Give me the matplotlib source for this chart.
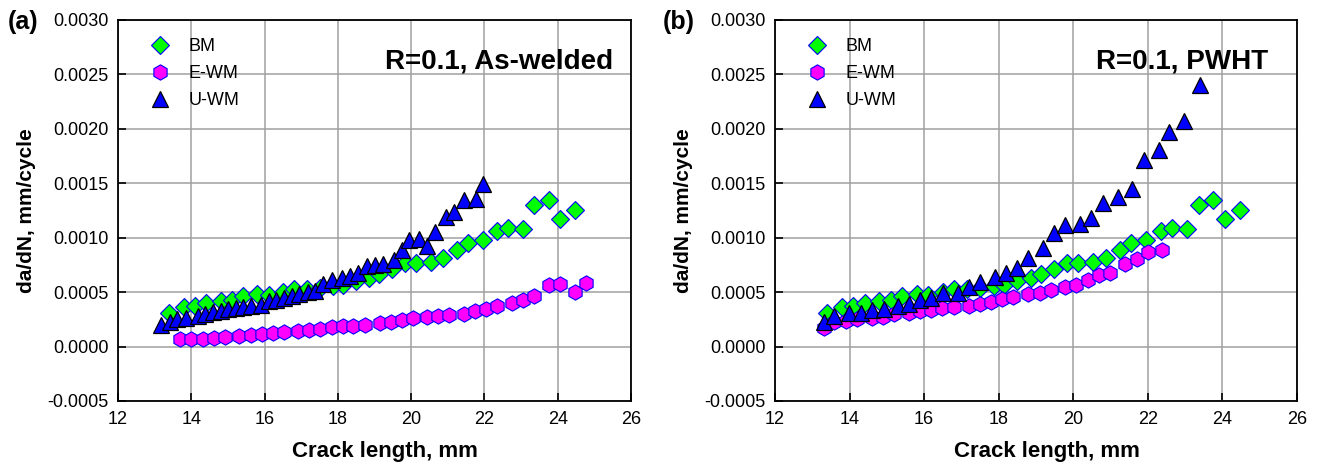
import numpy as np
import matplotlib
matplotlib.use("Agg")
import matplotlib.pyplot as plt

plt.rcParams['font.family'] = ['Liberation Sans', 'DejaVu Sans']

# Base metal (same in both panels)
bm_x = [13.38, 13.79, 14.09, 14.41, 14.80, 15.11, 15.41, 15.80, 16.11, 16.50, 16.81,
        17.15, 17.50, 17.88, 18.15, 18.50, 18.86, 19.13, 19.47, 19.83, 20.13, 20.53,
        20.88, 21.24, 21.56, 21.95, 22.35, 22.65, 23.06, 23.36, 23.76, 24.06, 24.46]
bm_y = [0.00031, 0.00036, 0.000375, 0.0004, 0.00042, 0.00043, 0.00046, 0.00048, 0.00047,
        0.0005, 0.00053, 0.00053, 0.00054, 0.00056, 0.00057, 0.0006, 0.00063, 0.00067,
        0.00071, 0.00077, 0.00077, 0.00078, 0.00081, 0.00089, 0.00095, 0.00098, 0.00106,
        0.00109, 0.00108, 0.0013, 0.00135, 0.00117, 0.00125]

# (a) As-welded
ewm_a_x = [13.69, 13.99, 14.31, 14.62, 14.92, 15.31, 15.62, 15.92, 16.22, 16.53, 16.92,
           17.22, 17.51, 17.83, 18.13, 18.42, 18.74, 19.15, 19.44, 19.74, 20.04, 20.42,
           20.74, 21.04, 21.44, 21.74, 22.04, 22.35, 22.74, 23.04, 23.36, 23.76, 24.06,
           24.46, 24.76]
ewm_a_y = [0.000065, 0.000065, 0.000073, 0.000082, 0.000088, 0.000097, 0.000106, 0.000115,
           0.000125, 0.000134, 0.00014, 0.00015, 0.000162, 0.00018, 0.000187, 0.000193,
           0.000202, 0.000217, 0.000227, 0.000242, 0.000258, 0.000267, 0.000282, 0.00029,
           0.000296, 0.000326, 0.000344, 0.000375, 0.000397, 0.000427, 0.000464, 0.000566,
           0.000576, 0.000501, 0.000582]
uwm_a_x = [13.18, 13.41, 13.62, 13.86, 14.18, 14.38, 14.59, 14.80, 15.00, 15.21, 15.41,
           15.62, 15.91, 16.12, 16.32, 16.53, 16.76, 16.95, 17.19, 17.37, 17.60, 17.83,
           18.10, 18.33, 18.55, 18.80, 19.01, 19.24, 19.53, 19.74, 19.95, 20.22, 20.44,
           20.65, 20.95, 21.17, 21.44, 21.77, 21.95]
uwm_a_y = [0.000196, 0.000227, 0.000249, 0.000258, 0.000279, 0.000298, 0.000319, 0.000328,
           0.000341, 0.000356, 0.000365, 0.000372, 0.000381, 0.000418, 0.000427, 0.000443,
           0.00046, 0.000485, 0.000504, 0.000514, 0.000576, 0.000613, 0.000628, 0.00065,
           0.000674, 0.000736, 0.000745, 0.000755, 0.000793, 0.00089, 0.000975, 0.00099,
           0.00092, 0.00105, 0.00119, 0.00124, 0.00135, 0.00136, 0.00149]

# (b) PWHT
ewm_b_x = [13.31, 13.59, 13.90, 14.20, 14.60, 14.89, 15.20, 15.60, 15.90, 16.19, 16.49,
           16.79, 17.20, 17.49, 17.78, 18.10, 18.38, 18.78, 19.10, 19.41, 19.79, 20.08,
           20.39, 20.70, 20.98, 21.39, 21.70, 22.00, 22.39]
ewm_b_y = [0.000175, 0.000227, 0.000233, 0.000249, 0.000258, 0.000273, 0.000298, 0.000304,
           0.000328, 0.000332, 0.00035, 0.000365, 0.000375, 0.00039, 0.000412, 0.000437,
           0.000452, 0.000483, 0.000489, 0.00052, 0.00055, 0.000566, 0.000616, 0.000659,
           0.00068, 0.00076, 0.000804, 0.000869, 0.00089]
uwm_b_x = [13.31, 13.59, 13.99, 14.31, 14.60, 14.91, 15.29, 15.60, 15.90, 16.19, 16.50,
           16.91, 17.20, 17.51, 17.89, 18.20, 18.50, 18.78, 19.18, 19.47, 19.79, 20.19,
           20.48, 20.79, 21.20, 21.58, 21.89, 22.29, 22.58, 22.98, 23.39]
uwm_b_y = [0.000226, 0.000279, 0.000304, 0.00031, 0.000335, 0.000344, 0.000372, 0.00039,
           0.000427, 0.000443, 0.000492, 0.000495, 0.00055, 0.000597, 0.000643, 0.00068,
           0.00072, 0.000813, 0.000906, 0.001045, 0.00112, 0.00113, 0.001184, 0.00132,
           0.00137, 0.00145, 0.00171, 0.00181, 0.00197, 0.00207, 0.0024]

x_ticks = np.arange(12, 27, 2)
y_ticks = np.arange(-0.0005, 0.00301, 0.0005)


def draw_panel(ax, ewm_x, ewm_y, uwm_x, uwm_y, title, tag, title_x):
    ax.plot(bm_x, bm_y, 'D', ms=9.5, mfc='#00ff00', mec='#0000ff', mew=0.8,
            label='BM', zorder=3)
    ax.plot(ewm_x, ewm_y, 'h', ms=11, mfc='#ff00ff', mec='#0000ff', mew=0.8,
            label='E-WM', zorder=3)
    ax.plot(uwm_x, uwm_y, '^', ms=11.5, mfc='#0000ff', mec='black', mew=0.9,
            label='U-WM', zorder=4)

    ax.set_xlim(12, 26)
    ax.set_ylim(-0.0005, 0.0030)
    ax.set_xticks(x_ticks)
    ax.set_yticks(y_ticks)
    ax.set_yticklabels([f'{v:.4f}' for v in y_ticks])
    ax.grid(True, color='#a0a0a0', lw=1.1)
    ax.set_axisbelow(True)
    ax.tick_params(direction='in', length=6, width=1.2, labelsize=13, pad=7)
    for s in ax.spines.values():
        s.set_linewidth(1.3)
        s.set_color('black')

    ax.set_xlabel('Crack length, mm', fontsize=16, fontweight='bold', labelpad=6)
    ax.xaxis.set_label_coords(0.52, -0.105)
    ax.set_ylabel('da/dN, mm/cycle', fontsize=15, fontweight='bold', labelpad=8)
    ax.text(title_x, 0.89, title, transform=ax.transAxes, ha='right', va='center',
            fontsize=20, fontweight='bold')
    ax.text(-0.215, 0.995, tag, transform=ax.transAxes, ha='left', va='center',
            fontsize=18, fontweight='bold')
    ax.legend(loc='upper left', bbox_to_anchor=(0.025, 1.0), frameon=False,
              fontsize=13, handletextpad=1.0, labelspacing=0.55, borderaxespad=0.6,
              handlelength=1.2)


fig = plt.figure(figsize=(13.17, 4.66), dpi=100)
ax1 = fig.add_axes([0.0896, 0.1395, 0.3895, 0.8176])
ax2 = fig.add_axes([0.5885, 0.1395, 0.3963, 0.8176])

draw_panel(ax1, ewm_a_x, ewm_a_y, uwm_a_x, uwm_a_y, 'R=0.1, As-welded', '(a)', 0.965)
draw_panel(ax2, ewm_b_x, ewm_b_y, uwm_b_x, uwm_b_y, 'R=0.1, PWHT', '(b)', 0.944)

fig.savefig('out.png', dpi=100)
